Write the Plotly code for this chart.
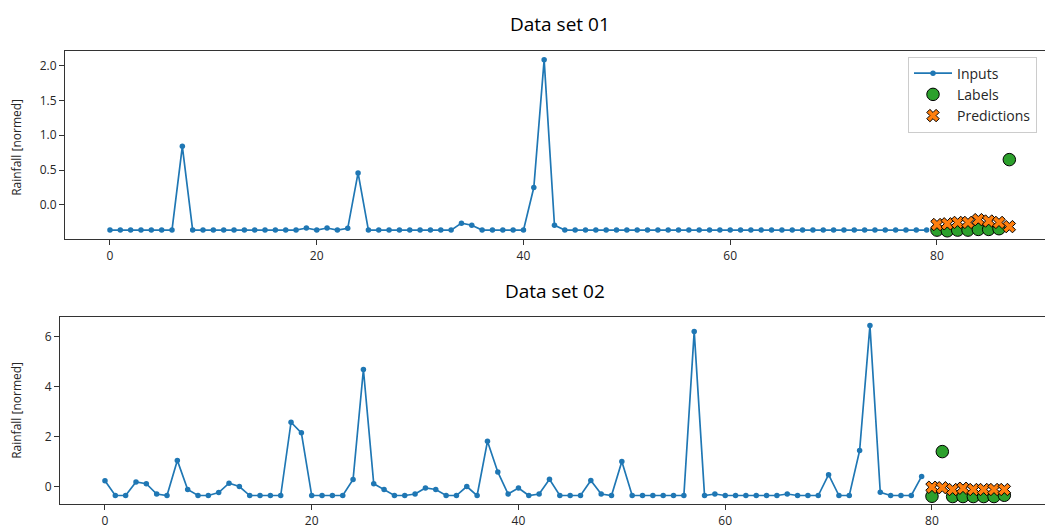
import plotly.graph_objects as go

# ---- data -------------------------------------------------------------
input_steps = list(range(80))
label_steps = list(range(80, 88))

inputs_01 = [
    -0.36, -0.36, -0.36, -0.36, -0.36, -0.36, -0.36, 0.84, -0.36, -0.36,
    -0.36, -0.36, -0.36, -0.36, -0.36, -0.36, -0.36, -0.36, -0.36, -0.33,
    -0.36, -0.33, -0.36, -0.335, 0.46, -0.36, -0.36, -0.36, -0.36, -0.36,
    -0.36, -0.36, -0.36, -0.36, -0.26, -0.29, -0.36, -0.36, -0.36, -0.36,
    -0.36, 0.25, 2.08, -0.29, -0.36, -0.36, -0.36, -0.36, -0.36, -0.36,
    -0.36, -0.36, -0.36, -0.36, -0.36, -0.36, -0.36, -0.36, -0.36, -0.36,
    -0.36, -0.36, -0.36, -0.36, -0.36, -0.36, -0.36, -0.36, -0.36, -0.36,
    -0.36, -0.36, -0.36, -0.36, -0.36, -0.36, -0.36, -0.36, -0.36, -0.36,
]
labels_01 = [-0.36, -0.37, -0.36, -0.36, -0.35, -0.35, -0.34, 0.65]
preds_01 = [-0.28, -0.27, -0.25, -0.25, -0.21, -0.23, -0.25, -0.31]

inputs_02 = [
    0.25, -0.34, -0.34, 0.20, 0.13, -0.28, -0.34, 1.06, -0.10, -0.34,
    -0.34, -0.22, 0.15, 0.02, -0.34, -0.34, -0.34, -0.34, 2.58, 2.16,
    -0.34, -0.34, -0.34, -0.34, 0.30, 4.68, 0.13, -0.10, -0.34, -0.34,
    -0.28, -0.04, -0.10, -0.34, -0.34, 0.02, -0.34, 1.82, 0.60, -0.28,
    -0.04, -0.34, -0.28, 0.31, -0.34, -0.34, -0.34, 0.26, -0.28, -0.34,
    1.02, -0.34, -0.34, -0.34, -0.34, -0.34, -0.34, 6.20, -0.34, -0.28,
    -0.34, -0.34, -0.34, -0.34, -0.34, -0.34, -0.28, -0.34, -0.34, -0.34,
    0.49, -0.34, -0.34, 1.45, 6.43, -0.21, -0.34, -0.34, -0.34, 0.42,
]
labels_02 = [-0.37, 1.41, -0.38, -0.38, -0.38, -0.38, -0.38, -0.33]
preds_02 = [-0.01, -0.03, -0.10, -0.05, -0.10, -0.10, -0.10, -0.10]

titles = ["Data set 01", "Data set 02"]
x_ticks = [0, 20, 40, 60, 80]
y_ticks_01 = [0.0, 0.5, 1.0, 1.5, 2.0]
y_ticks_02 = [0, 2, 4, 6]

# ---- styling ----------------------------------------------------------
W, H = 1045, 529
BLUE, GREEN, ORANGE = "#1f77b4", "#2ca02c", "#ff7f0e"
FONT = "Open Sans, Noto Sans, DejaVu Sans, sans-serif"
TEXT = "#262626"


def px_x(p):
    return p / W


def px_y(p):
    return 1 - p / H


fig = go.Figure()

panels = [
    ("x", "y", inputs_01, labels_01, preds_01, True),
    ("x2", "y2", inputs_02, labels_02, preds_02, False),
]
for xa, ya, inp, lab, pre, show in panels:
    fig.add_trace(go.Scatter(
        x=input_steps, y=inp, xaxis=xa, yaxis=ya, name="Inputs",
        mode="lines+markers", line=dict(color=BLUE, width=1.7),
        marker=dict(color=BLUE, size=5.5), showlegend=show,
    ))
    fig.add_trace(go.Scatter(
        x=label_steps, y=lab, xaxis=xa, yaxis=ya, name="Labels",
        mode="markers",
        marker=dict(color=GREEN, size=12.5, line=dict(color="black", width=1)),
        showlegend=show,
    ))
    fig.add_trace(go.Scatter(
        x=label_steps, y=pre, xaxis=xa, yaxis=ya, name="Predictions",
        mode="markers",
        marker=dict(color=ORANGE, size=11, symbol="x",
                    line=dict(color="black", width=1)),
        showlegend=show,
    ))

# axis geometry: 10.3375 px per step, data margin of 4.35 steps on the left
ppu = 10.3375
axis_common = dict(
    showline=True, linecolor="#333", linewidth=1, ticks="outside",
    ticklen=5, tickwidth=1, tickcolor="#333", showgrid=False, zeroline=False,
    tickfont=dict(family=FONT, size=12, color=TEXT),
)

left1, left2 = 65, 60
fig.update_layout(
    xaxis=dict(domain=[px_x(left1), 1], anchor="y",
               range=[-4.35, -4.35 + (W - left1) / ppu],
               tickvals=x_ticks, mirror=True, **axis_common),
    yaxis=dict(domain=[px_y(241), px_y(51.5)], anchor="x",
               range=[-0.49, 2.205], tickvals=y_ticks_01, tickformat=".1f",
               **axis_common),
    xaxis2=dict(domain=[px_x(left2), 1], anchor="y2",
                range=[-4.35, -4.35 + (W - left2) / ppu],
                tickvals=x_ticks, mirror=True, **axis_common),
    yaxis2=dict(domain=[px_y(508), px_y(319.5)], anchor="x2",
                range=[-0.684, 6.77], tickvals=y_ticks_02, **axis_common),
)

# panel titles and y-axis labels
for title, cx, cy in [(titles[0], 560, 24), (titles[1], 555, 293)]:
    fig.add_annotation(
        text=title, x=px_x(cx), y=px_y(cy), xref="paper", yref="paper",
        xanchor="center", yanchor="middle", showarrow=False,
        font=dict(family=FONT, size=19, color="black"),
    )
for cy in [149, 414]:
    fig.add_annotation(
        text="Rainfall [normed]", x=px_x(17), y=px_y(cy), xref="paper",
        yref="paper", xanchor="center", yanchor="middle", showarrow=False,
        textangle=-90, font=dict(family=FONT, size=12, color=TEXT),
    )

fig.update_layout(
    width=W, height=H, margin=dict(l=0, r=0, t=0, b=0),
    paper_bgcolor="white", plot_bgcolor="white",
    legend=dict(
        x=px_x(1037), y=px_y(57), xanchor="right", yanchor="top",
        bgcolor="rgba(255,255,255,0.85)", bordercolor="#cccccc",
        borderwidth=1, itemwidth=38,
        font=dict(family=FONT, size=14, color=TEXT),
    ),
)

fig.write_html("out.html")
